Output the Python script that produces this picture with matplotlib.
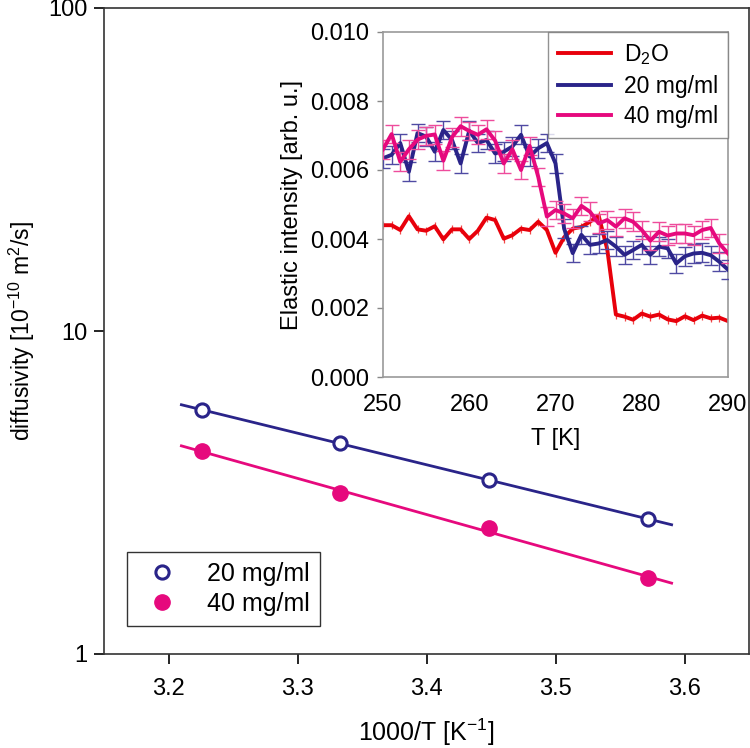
import numpy as np
import matplotlib
matplotlib.use("Agg")
import matplotlib.pyplot as plt
from matplotlib.lines import Line2D

plt.rcParams['font.family'] = ['Liberation Sans', 'DejaVu Sans']
plt.rcParams['mathtext.fontset'] = 'custom'
plt.rcParams['mathtext.rm'] = 'Liberation Sans'
plt.rcParams['mathtext.it'] = 'Liberation Sans:italic'

# ---------------- data: main panel (Arrhenius plot) ----------------
inv_T = [3.2258, 3.3333, 3.4483, 3.5714]           # 1000/T [1/K]
diff_20 = [5.69, 4.50, 3.45, 2.62]                  # 20 mg/ml, 1e-10 m^2/s
diff_40 = [4.25, 3.15, 2.45, 1.72]                  # 40 mg/ml
fit_range = [3.21, 3.59]

# ---------------- data: inset (elastic intensity vs T) ----------------
temp_K = list(range(250, 291))
elastic_d2o = [0.00440, 0.00440, 0.00426, 0.00466, 0.00428, 0.00424, 0.00437, 0.00399,
               0.00428, 0.00428, 0.00400, 0.00424, 0.00462, 0.00455, 0.00401, 0.00411,
               0.00430, 0.00426, 0.00450, 0.00426, 0.00360, 0.00405, 0.00430, 0.00435,
               0.00450, 0.00468, 0.00370, 0.00181, 0.00175, 0.00166, 0.00184, 0.00175,
               0.00181, 0.00167, 0.00162, 0.00176, 0.00165, 0.00178, 0.00170, 0.00172,
               0.00162]
elastic_20 = [0.00634, 0.00644, 0.00678, 0.00595, 0.00707, 0.00697, 0.00653, 0.00716,
              0.00687, 0.00619, 0.00714, 0.00678, 0.00687, 0.00648, 0.00653, 0.00668,
              0.00702, 0.00639, 0.00663, 0.00678, 0.00619, 0.00430, 0.00359, 0.00412,
              0.00383, 0.00387, 0.00397, 0.00378, 0.00354, 0.00368, 0.00383, 0.00354,
              0.00378, 0.00373, 0.00329, 0.00350, 0.00358, 0.00360, 0.00353, 0.00334,
              0.00311]
elastic_40 = [0.00660, 0.00704, 0.00624, 0.00660, 0.00688, 0.00699, 0.00703, 0.00627,
              0.00695, 0.00727, 0.00713, 0.00702, 0.00718, 0.00685, 0.00619, 0.00660,
              0.00600, 0.00670, 0.00580, 0.00465, 0.00484, 0.00474, 0.00460, 0.00496,
              0.00479, 0.00445, 0.00455, 0.00436, 0.00460, 0.00450, 0.00426, 0.00395,
              0.00421, 0.00410, 0.00416, 0.00416, 0.00411, 0.00426, 0.00432, 0.00387,
              0.00358]
err_d2o = 0.00012
err_20 = 0.00027
err_40 = 0.00027

C_RED = '#E8000B'
C_BLUE = '#2A2489'
C_PINK = '#E6097D'

fig = plt.figure(figsize=(7.5, 7.48), dpi=100)

# ---------------- main axes ----------------
ax = fig.add_axes([104/750, 1-654/748, (749-104)/750, (654-8)/748])
ax.set_yscale('log')
ax.set_xlim(3.15, 3.65)
ax.set_ylim(1, 100)

xf = np.linspace(fit_range[0], fit_range[1], 50)
for yv, c in [(diff_20, C_BLUE), (diff_40, C_PINK)]:
    p = np.polyfit(inv_T, np.log10(yv), 1)
    ax.plot(xf, 10**np.polyval(p, xf), color=c, lw=2.0, zorder=2)

ax.plot(inv_T, diff_20, 'o', ms=9.5, mfc='white', mec=C_BLUE, mew=2.2,
        label='20 mg/ml', zorder=3, linestyle='none')
ax.plot(inv_T, diff_40, 'o', ms=11, color=C_PINK, label='40 mg/ml', zorder=3,
        linestyle='none')

ax.set_xticks([3.2, 3.3, 3.4, 3.5, 3.6])
ax.set_xticklabels(['3.2', '3.3', '3.4', '3.5', '3.6'])
ax.set_yticks([1, 10, 100])
ax.set_yticklabels(['1', '10', '100'])
ax.minorticks_off()
ax.tick_params(axis='both', direction='out', length=7, width=1.2,
               labelsize=17, colors='black')
ax.tick_params(axis='x', pad=10)
ax.tick_params(axis='y', pad=5)
for s in ax.spines.values():
    s.set_linewidth(1.2)
    s.set_color('#333333')
ax.set_xlabel('1000/T [K$^{-1}$]', fontsize=18, labelpad=12)
ax.set_ylabel('diffusivity [10$^{-10}$ m$^2$/s]', fontsize=16.5, labelpad=8)
leg = ax.legend(loc='lower left', bbox_to_anchor=(0.0357, 0.0433), fontsize=18,
                frameon=True, fancybox=False, edgecolor='black', handlelength=2.0,
                handletextpad=0.8, borderpad=0.4, labelspacing=0.25,
                borderaxespad=0)
leg.get_frame().set_linewidth(1.0)

# ---------------- inset ----------------
ins = fig.add_axes([383/750, 1-377/748, (728-383)/750, (377-32)/748])
ins.errorbar(temp_K, elastic_d2o, yerr=err_d2o, color=C_RED, lw=2.8,
             ecolor='#F04848', elinewidth=0.9, capsize=0, label='D$_2$O', zorder=2)
ins.errorbar(temp_K, elastic_20, yerr=err_20, color=C_BLUE, lw=2.8,
             ecolor='#4F4AA3', elinewidth=1.0, capsize=5, capthick=1.0,
             label='20 mg/ml', zorder=3)
ins.errorbar(temp_K, elastic_40, yerr=err_40, color=C_PINK, lw=2.8,
             ecolor='#EE4C9C', elinewidth=1.0, capsize=5, capthick=1.0,
             label='40 mg/ml', zorder=4)
ins.set_xlim(250, 290)
ins.set_ylim(0, 0.010)
ins.set_xticks([250, 260, 270, 280, 290])
ins.set_yticks([0.000, 0.002, 0.004, 0.006, 0.008, 0.010])
ins.set_yticklabels(['0.000', '0.002', '0.004', '0.006', '0.008', '0.010'])
ins.tick_params(axis='y', direction='out', length=4, width=1, color='#888888',
                labelsize=17, pad=6)
ins.tick_params(axis='x', direction='out', length=0, labelsize=17, pad=12)
for s in ins.spines.values():
    s.set_linewidth(1.2)
    s.set_color('#999999')
ins.set_xlabel('T [K]', fontsize=17, labelpad=9)
ins.set_ylabel('Elastic intensity [arb. u.]', fontsize=17, labelpad=5)
labels = ['D$_2$O', '20 mg/ml', '40 mg/ml']
h2 = [Line2D([], [], color=C_RED, lw=2.8), Line2D([], [], color=C_BLUE, lw=2.8),
      Line2D([], [], color=C_PINK, lw=2.8)]
ileg = ins.legend(h2, labels, loc='upper right', bbox_to_anchor=(1.0, 1.0),
                  fontsize=16.5, frameon=True, fancybox=False, edgecolor='#777777',
                  handlelength=2.3, handletextpad=0.55, borderpad=0.45,
                  labelspacing=0.32, borderaxespad=0)
ileg.get_frame().set_linewidth(1.0)

fig.savefig('out.png', dpi=100)
